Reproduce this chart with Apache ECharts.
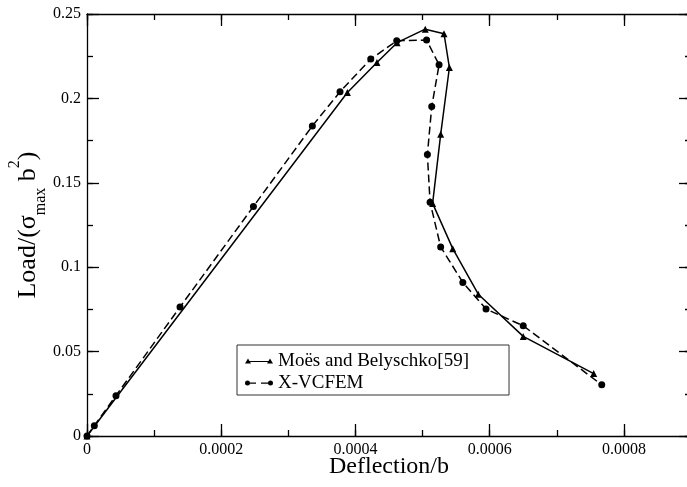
<!DOCTYPE html>
<html>
<head>
<meta charset="utf-8">
<script src="https://cdn.jsdelivr.net/npm/echarts@6/dist/echarts.min.js"></script>
<style>
  html, body { margin: 0; padding: 0; background: #fff; }
  #chart { width: 687px; height: 487px; }
</style>
</head>
<body>
<div id="chart"></div>
<script>
// Load–deflection curves: Moës & Belyschko reference vs. X-VCFEM
var moesX  = [0, 0.000388, 0.000432, 0.000462, 0.000504, 0.000532, 0.000540, 0.000527, 0.000515, 0.000545, 0.000583, 0.000650, 0.000755];
var moesY  = [0, 0.2035,   0.2213,   0.2330,   0.2410,   0.2383,   0.2183,   0.1787,   0.1378,   0.1110,   0.0840,   0.0590,   0.0370];

var vcfemX = [0, 0.0000109, 0.0000432, 0.0001386, 0.000248, 0.0003358, 0.000377, 0.0004228, 0.0004615, 0.000506, 0.0005246, 0.0005137, 0.0005072, 0.0005112, 0.000527, 0.000560, 0.0005946, 0.000650, 0.000767];
var vcfemY = [0, 0.0061,    0.0239,    0.0764,    0.1360,   0.1837,    0.2039,   0.2233,    0.2341,    0.2346,   0.2199,    0.1952,    0.1667,    0.1385,    0.1120,   0.0910,   0.0752,    0.0653,   0.0303];

var seriesNames = ['Moës and Belyschko[59]', 'X-VCFEM'];
var xTickLabels = ['0', '0.0002', '0.0004', '0.0006', '0.0008'];

var X_MIN = 0, X_MAX = 0.0009, X_MAJOR = 0.0002, X_MINOR = 0.0001;
var Y_MIN = 0, Y_MAX = 0.25, Y_MAJOR = 0.05, Y_MINOR = 0.025;

function pairs(xs, ys) {
  return xs.map(function (x, i) { return [x, ys[i]]; });
}

var FONT = "'Liberation Serif', 'DejaVu Serif', serif";

function lineDef(show) {
  return { show: show, onZero: false, lineStyle: { color: '#000', width: 1.3 } };
}

function xAxisDef(pos, major, showLabels, showLine) {
  return {
    type: 'value', position: pos, min: X_MIN, max: X_MAX,
    interval: major ? X_MAJOR : X_MINOR,
    axisLine: lineDef(showLine),
    axisTick: { show: true, inside: true, length: major ? 12 : 6, lineStyle: { color: '#000', width: 1.3 } },
    axisLabel: {
      show: showLabels, color: '#000', fontFamily: FONT, fontSize: 16, margin: 6,
      formatter: function (v) {
        var k = Math.round(v / X_MAJOR);
        if (Math.abs(v - k * X_MAJOR) > 1e-12) return '';
        return xTickLabels[k] !== undefined ? xTickLabels[k] : '';
      }
    },
    splitLine: { show: false }
  };
}

function yAxisDef(pos, major, showLabels, showLine) {
  return {
    type: 'value', position: pos, min: Y_MIN, max: Y_MAX,
    interval: major ? Y_MAJOR : Y_MINOR,
    axisLine: lineDef(showLine),
    axisTick: { show: true, inside: true, length: major ? 12 : 6, lineStyle: { color: '#000', width: 1.3 } },
    axisLabel: { show: showLabels, color: '#000', fontFamily: FONT, fontSize: 16, margin: 6 },
    splitLine: { show: false }
  };
}

var xAxes = [
  xAxisDef('bottom', true, true, true),
  xAxisDef('bottom', false, false, false),
  xAxisDef('top', true, false, true),
  xAxisDef('top', false, false, false)
];
xAxes[0].name = 'Deflection/b';
xAxes[0].nameLocation = 'middle';
xAxes[0].nameGap = 19;
xAxes[0].nameMoveOverlap = false;
xAxes[0].nameTextStyle = { color: '#000', fontFamily: FONT, fontSize: 24 };

var yAxes = [
  yAxisDef('left', true, true, true),
  yAxisDef('left', false, false, false),
  yAxisDef('right', true, false, true),
  yAxisDef('right', false, false, false)
];
yAxes[0].name = '{a|Load/(σ}{s|max}{a| b}{p|2}{a|)}';
yAxes[0].nameLocation = 'middle';
yAxes[0].nameGap = 38;
yAxes[0].nameMoveOverlap = false;
yAxes[0].nameTextStyle = {
  color: '#000', fontFamily: FONT, fontSize: 26,
  rich: {
    a: { fontFamily: FONT, fontSize: 26, lineHeight: 42, color: '#000' },
    s: { fontFamily: FONT, fontSize: 16, lineHeight: 21, verticalAlign: 'bottom', color: '#000' },
    p: { fontFamily: FONT, fontSize: 16, lineHeight: 14, verticalAlign: 'top', color: '#000' }
  }
};

var triIcon = 'path://M0,5 L3,0 L6,5 Z M3,2.4 L25,2.4 L25,3.6 L3,3.6 Z M22,5 L25,0 L28,5 Z';
var dotIcon = 'path://M0,2.5 A2.5,2.5 0 1,1 5,2.5 A2.5,2.5 0 1,1 0,2.5 Z ' +
              'M4,2 L11,2 L11,3.2 L4,3.2 Z M16,2 L24,2 L24,3.2 L16,3.2 Z ' +
              'M23,2.5 A2.5,2.5 0 1,1 28,2.5 A2.5,2.5 0 1,1 23,2.5 Z';

var chart = echarts.init(document.getElementById('chart'), null, { renderer: 'canvas' });
chart.setOption({
  backgroundColor: '#fff',
  animation: false,
  grid: { left: 87, top: 14, width: 604, height: 422, containLabel: false, outerBoundsMode: 'none' },
  xAxis: xAxes,
  yAxis: yAxes,
  legend: {
    left: 237, top: 345, orient: 'vertical',
    backgroundColor: '#fff',
    borderColor: '#333', borderWidth: 1,
    padding: [6, 40, 2, 8],
    itemGap: 2, itemWidth: 28, itemHeight: 5,
    textStyle: { color: '#000', fontFamily: FONT, fontSize: 19, lineHeight: 20 },
    itemStyle: { borderWidth: 0 },
    data: [
      { name: seriesNames[0], icon: triIcon },
      { name: seriesNames[1], icon: dotIcon }
    ]
  },
  series: [
    {
      name: seriesNames[0], type: 'line', xAxisIndex: 0, yAxisIndex: 0,
      data: pairs(moesX, moesY),
      symbol: 'triangle', symbolSize: 7, showAllSymbol: true,
      lineStyle: { color: '#000', width: 1.5 },
      itemStyle: { color: '#000' },
      z: 3
    },
    {
      name: seriesNames[1], type: 'line', xAxisIndex: 0, yAxisIndex: 0,
      data: pairs(vcfemX, vcfemY),
      symbol: 'circle', symbolSize: 7, showAllSymbol: true,
      lineStyle: { color: '#000', width: 1.5, type: [8, 4] },
      itemStyle: { color: '#000' },
      z: 3
    }
  ]
});
</script>
</body>
</html>
